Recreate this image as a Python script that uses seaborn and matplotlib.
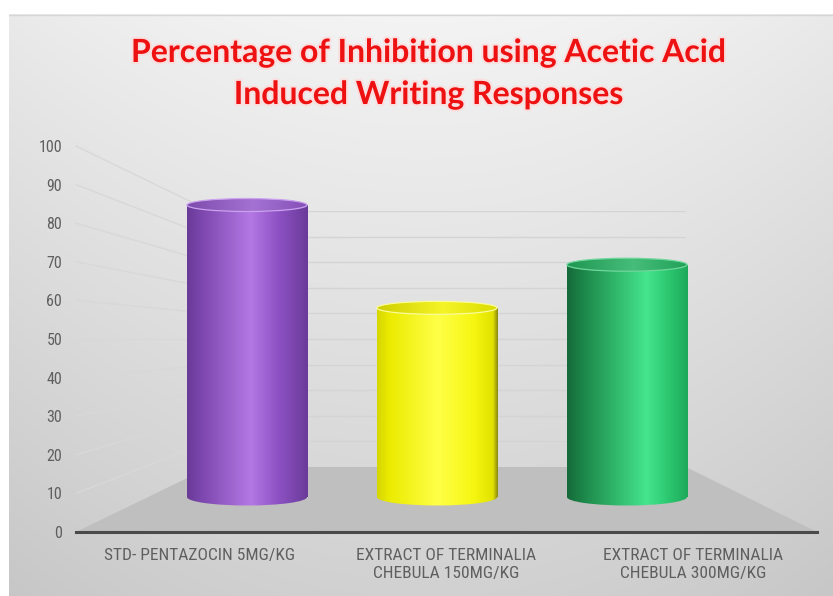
import numpy as np
import matplotlib
matplotlib.use("Agg")
import matplotlib.pyplot as plt
import seaborn as sns
from matplotlib import font_manager as fm
from matplotlib.patches import Ellipse, Polygon
from matplotlib.colors import LinearSegmentedColormap, to_rgb
import matplotlib.patheffects as pe

# ---------------- data ----------------
categories = [
    "STD- PENTAZOCIN 5MG/KG",
    "EXTRACT OF TERMINALIA\nCHEBULA 150MG/KG",
    "EXTRACT OF TERMINALIA\nCHEBULA 300MG/KG",
]
inhibition = [88, 57, 70]
y_ticks = [0, 10, 20, 30, 40, 50, 60, 70, 80, 90, 100]
title_lines = ["Percentage of Inhibition using Acetic Acid", "Induced Writing Responses"]
bar_colors = ["#8a4fc0", "#f0f000", "#22a85a"]

# cylinder shading (style only)
shades = [
    [(0.0, "#693a97"), (0.12, "#7c47ae"), (0.53, "#b478e4"), (0.75, "#8e52c4"), (1.0, "#6a3b9a")],
    [(0.0, "#d6d600"), (0.1, "#ebeb00"), (0.5, "#ffff48"), (0.8, "#f6f612"), (0.96, "#e2e200"), (1.0, "#8a8a12")],
    [(0.0, "#156a39"), (0.15, "#1d8a4b"), (0.66, "#45e58d"), (0.85, "#2ac66e"), (1.0, "#1ea85a")],
]
cap_colors = ["#9459cb", "#f3f300", "#25b262"]
rim_colors = ["#caa2ee", "#fbfb9a", "#6fd79b"]

# ---------------- style ----------------
sns.set_theme(style="white")
avail = {f.name for f in fm.fontManager.ttflist}


def pick(cands):
    for c in cands:
        if c in avail:
            return c
    return "DejaVu Sans"


label_font = pick(["Liberation Sans Narrow", "Roboto Condensed", "Open Sans", "Lato"])
title_font = pick(["Lato", "Open Sans", "Roboto"])
plt.rcParams["font.family"] = [label_font, "DejaVu Sans"]

W, H = 833, 596
fig = plt.figure(figsize=(W / 100, H / 100), dpi=100, facecolor="white")


def frac(x0, y_top, x1, y_bot):
    return [x0 / W, 1 - y_bot / H, (x1 - x0) / W, (y_bot - y_top) / H]


def mix(c, t, f):
    c = np.array(to_rgb(c)); t = np.array(to_rgb(t))
    return tuple(c + (t - c) * f)


# ---------------- background / floor ----------------
ax_bg = fig.add_axes([0, 0, 1, 1], zorder=0)
ax_bg.set_xlim(0, W)
ax_bg.set_ylim(H, 0)
ax_bg.axis("off")
yy = np.linspace(0, 1, 300)[:, None]
xx = np.linspace(-1, 1, 300)[None, :]
base = 0.955 - 0.135 * yy - 0.04 * xx ** 2
ax_bg.imshow(np.dstack([base] * 3), extent=(9, W, H, 14), aspect="auto",
             interpolation="bilinear", zorder=0)
ax_bg.plot([9, W], [14.5, 14.5], color="#d6d6d6", lw=1, zorder=1)
ax_bg.add_patch(Polygon([(76, 532), (817, 532), (686, 467), (210, 467)],
                        closed=True, facecolor="#bfbfbf", edgecolor="none", zorder=3))

# ---------------- front value axis (tick labels) ----------------
ax_front = fig.add_axes(frac(76, 146, 77, 532), zorder=5)
ax_front.set_ylim(0, 100)
ax_front.set_xlim(0, 1)
ax_front.set_yticks(y_ticks)
ax_front.set_xticks([])
ax_front.patch.set_alpha(0)
for s in ax_front.spines.values():
    s.set_visible(False)
ax_front.tick_params(axis="y", length=0, pad=10, labelsize=11.5, labelcolor="#5f5f5f")

# ---------------- back wall gridlines ----------------
ax_back = fig.add_axes(frac(210, 211, 686, 467), zorder=2)
ax_back.set_ylim(0, 100)
ax_back.set_xlim(0, 1)
ax_back.set_yticks(y_ticks[1:])
ax_back.set_xticks([])
ax_back.patch.set_alpha(0)
for s in ax_back.spines.values():
    s.set_visible(False)
ax_back.tick_params(axis="y", length=0, labelleft=False)
ax_back.grid(axis="y", color="#d4d4d4", lw=1)

# side wall gridlines: from front axis to back wall corner, through both scales
inv = ax_bg.transData.inverted()
for v in y_ticks[1:]:
    pf = inv.transform(ax_front.transData.transform((0, v)))
    pb = inv.transform(ax_back.transData.transform((0, v)))
    ax_bg.plot([pf[0], pb[0]], [pf[1], pb[1]], color="#d8d8d8", lw=1, zorder=2)

# ---------------- category axis (front edge + labels) ----------------
ax_cat = fig.add_axes(frac(76, 500, 817, 532), zorder=4)
ax_cat.set_xlim(-0.5, 2.5)
ax_cat.set_xticks(range(len(categories)))
ax_cat.set_xticklabels(categories, linespacing=1.25)
ax_cat.set_yticks([])
ax_cat.patch.set_alpha(0)
for k, s in ax_cat.spines.items():
    s.set_visible(k == "bottom")
ax_cat.spines["bottom"].set_color("#4a4a4a")
ax_cat.spines["bottom"].set_linewidth(2.2)
ax_cat.tick_params(axis="x", length=0, pad=11.5, labelsize=12.5, labelcolor="#5f5f5f")

# ---------------- cylinders ----------------
S = 3.318  # px per unit at bar depth
ax_bar = fig.add_axes(frac(152, 497 - 100 * S, 722, 497 + 10 * S), zorder=6)
sns.barplot(x=categories, y=inhibition, hue=categories, palette=bar_colors,
            width=0.632, saturation=1, legend=False, ax=ax_bar)
ax_bar.axis("off")
ax_bar.patch.set_alpha(0)

cap_top = 13 / S
cap_bot = 17 / S
grad = np.linspace(0, 1, 256)[None, :]
bars = sorted(ax_bar.patches, key=lambda p: p.get_x())
for i, rect in enumerate(bars):
    x0, w, h = rect.get_x(), rect.get_width(), rect.get_height()
    cx = x0 + w / 2
    cmap = LinearSegmentedColormap.from_list(f"cyl{i}", shades[i])
    rect.set_facecolor("none")
    rect.set_edgecolor("none")
    # bottom ellipse
    bot = Ellipse((cx, 0), w, cap_bot, facecolor="none", edgecolor="none")
    ax_bar.add_patch(bot)
    im0 = ax_bar.imshow(grad, cmap=cmap, extent=(x0, x0 + w, -cap_bot, h + cap_top),
                        aspect="auto", zorder=2, interpolation="bilinear")
    im0.set_clip_path(bot)
    im1 = ax_bar.imshow(grad, cmap=cmap, extent=(x0, x0 + w, -cap_bot, h + cap_top),
                        aspect="auto", zorder=3, interpolation="bilinear")
    im1.set_clip_path(rect)
    # top cap
    c = cap_colors[i]
    capc = LinearSegmentedColormap.from_list(
        f"cap{i}", [(0.0, mix(c, "black", 0.15)), (0.55, mix(c, "white", 0.15)),
                    (1.0, mix(c, "black", 0.1))])
    top = Ellipse((cx, h), w, cap_top, facecolor="none",
                  edgecolor=rim_colors[i], lw=0.9, zorder=5)
    ax_bar.add_patch(top)
    im2 = ax_bar.imshow(grad, cmap=capc, extent=(x0, x0 + w, h - cap_top, h + cap_top),
                        aspect="auto", zorder=4, interpolation="bilinear")
    im2.set_clip_path(top)

ax_bar.set_xlim(-0.5, 2.5)
ax_bar.set_ylim(-10, 100)

# ---------------- title ----------------
glow = [pe.withStroke(linewidth=3, foreground="#ffd9d9", alpha=0.7)]
fig.text(429 / W, 1 - 62 / H, title_lines[0], ha="center", va="baseline",
         fontsize=23, fontweight="bold", color="#ee1111",
         family=[title_font, "DejaVu Sans"], path_effects=glow)
fig.text(429 / W, 1 - 104 / H, title_lines[1], ha="center", va="baseline",
         fontsize=23, fontweight="bold", color="#ee1111",
         family=[title_font, "DejaVu Sans"], path_effects=glow)

fig.savefig("out.png", dpi=100, facecolor="white")
